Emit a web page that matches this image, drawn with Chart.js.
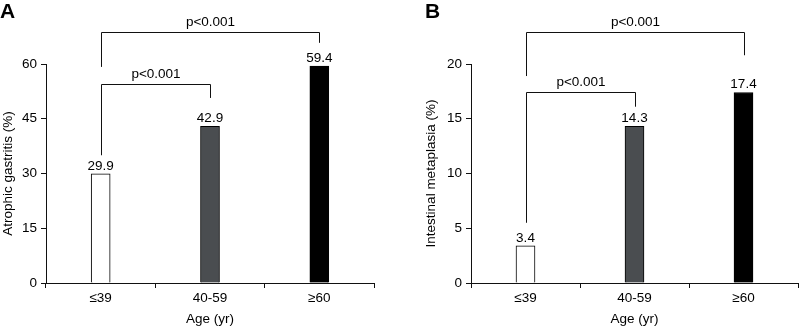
<!DOCTYPE html>
<html>
<head>
<meta charset="utf-8">
<script src="https://cdn.jsdelivr.net/npm/chart.js@4.4.0/dist/chart.umd.min.js"></script>
<style>
  html, body { margin: 0; padding: 0; background: #fff; }
  body { width: 799px; height: 327px; position: relative; overflow: hidden; font-family: "Liberation Sans", Arial, sans-serif; }
  .panel { position: absolute; top: 0; height: 327px; }
  #panelA { left: 0; width: 400px; }
  #panelB { left: 400px; width: 399px; }
  .tag { position: absolute; top: -1px; font-weight: bold; font-size: 21px; color: #000; }
</style>
</head>
<body>
<div class="panel" id="panelA"><canvas id="chartA" width="400" height="327"></canvas></div>
<div class="panel" id="panelB"><canvas id="chartB" width="399" height="327"></canvas></div>
<div class="tag" style="left:0px">A</div>
<div class="tag" style="left:425px">B</div>

<script>
// data
const ageGroups = ['≤39', '40-59', '≥60'];
const atrophicValues = [29.9, 42.9, 59.4];
const metaplasiaValues = [3.4, 14.3, 17.4];
const atrophicTicks = [0, 15, 30, 45, 60];
const metaplasiaTicks = [0, 5, 10, 15, 20];
const barColors = ['#ffffff', '#4a4d50', '#000000'];
const pLabel = 'p<0.001';

const FONT = '"Liberation Sans", Arial, sans-serif';

// bar value labels + significance brackets
const annotatePlugin = {
    id: 'annotate',
    afterDatasetsDraw(chart, args, opts) {
        const ctx = chart.ctx;
        const x = chart.scales.x;
        const y = chart.scales.y;
        const meta = chart.getDatasetMeta(0);
        ctx.save();
        ctx.fillStyle = '#000';
        ctx.font = '13.5px ' + FONT;
        ctx.textAlign = 'center';
        ctx.textBaseline = 'bottom';
        meta.data.forEach((bar, i) => {
            ctx.fillText(chart.data.datasets[0].data[i].toFixed(1), bar.x, bar.y - 1);
        });

        ctx.strokeStyle = '#111';
        ctx.lineWidth = 1;
        opts.brackets.forEach(b => {
            const x1 = Math.round(x.getPixelForValue(b.from)) + 0.5;
            const x2 = Math.round(x.getPixelForValue(b.to)) + 0.5;
            const yy = Math.round(y.getPixelForValue(b.level)) + 0.5;
            ctx.beginPath();
            ctx.moveTo(x1, y.getPixelForValue(b.leftEnd));
            ctx.lineTo(x1, yy);
            ctx.lineTo(x2, yy);
            ctx.lineTo(x2, y.getPixelForValue(b.rightEnd));
            ctx.stroke();
            ctx.fillText(pLabel, (x1 + x2) / 2, yy - 3);
        });
        ctx.restore();
    }
};

function makeChart(id, values, ticks, title, leftPad, axisWidth, brackets) {
    const max = ticks[ticks.length - 1];
    return new Chart(document.getElementById(id), {
        type: 'bar',
        data: {
            labels: ageGroups,
            datasets: [{
                data: values,
                backgroundColor: barColors,
                borderColor: '#000',
                borderWidth: 1,
                borderSkipped: 'bottom',
                barThickness: 19
            }]
        },
        options: {
            responsive: false,
            animation: false,
            events: [],
            layout: { padding: { left: leftPad, right: id === 'chartA' ? 26 : 1, top: 64, bottom: 0 } },
            plugins: {
                legend: { display: false },
                tooltip: { enabled: false },
                annotate: { brackets: brackets }
            },
            scales: {
                x: {
                    offset: true,
                    afterFit: (axis) => { axis.height = 44; },
                    grid: { display: true, offset: true, drawOnChartArea: false, tickLength: 5, color: '#111' },
                    border: { color: '#111', width: 1 },
                    ticks: { color: '#000', padding: 2, font: { family: FONT, size: 13.5 } },
                    title: { display: true, text: 'Age (yr)', color: '#000', padding: 0, font: { family: FONT, size: 13.5 } }
                },
                y: {
                    min: 0,
                    max: max,
                    afterFit: (axis) => { axis.width = axisWidth; },
                    afterBuildTicks: (axis) => { axis.ticks = ticks.map(v => ({ value: v })); },
                    grid: { display: true, drawOnChartArea: false, tickLength: 5, color: '#111' },
                    border: { color: '#111', width: 1 },
                    ticks: { color: '#000', padding: 4, font: { family: FONT, size: 13.5 } },
                    title: { display: true, text: title, color: '#000', padding: 0, font: { family: FONT, size: 13.5 } }
                }
            }
        },
        plugins: [annotatePlugin]
    });
}

makeChart('chartA', atrophicValues, atrophicTicks, 'Atrophic gastritis (%)', 0, 46, [
    { from: 0, to: 2, level: 68.8, leftEnd: 59.2, rightEnd: 65.8 },
    { from: 0, to: 1, level: 54.5, leftEnd: 35.0, rightEnd: 50.7 }
]);

makeChart('chartB', metaplasiaValues, metaplasiaTicks, 'Intestinal metaplasia (%)', 23, 48, [
    { from: 0, to: 2, level: 22.9, leftEnd: 18.9, rightEnd: 20.8 },
    { from: 0, to: 1, level: 17.4, leftEnd: 5.5, rightEnd: 16.1 }
]);
</script>
</body>
</html>
